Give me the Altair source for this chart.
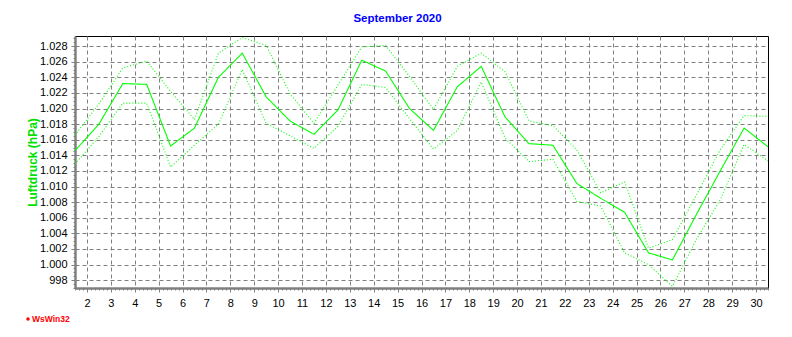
import altair as alt
import pandas as pd

# x positions: one value per day, plotted at mid-day
days = [1.5 + i for i in range(30)]
avg = [1014.6, 1018.0, 1023.2, 1023.1, 1015.2, 1017.5, 1024.0, 1027.1, 1021.5, 1018.4,
       1016.7, 1019.8, 1026.2, 1024.8, 1020.0, 1017.2, 1022.8, 1025.4, 1018.9, 1015.5,
       1015.3, 1010.4, 1008.5, 1006.7, 1001.5, 1000.6, 1006.4, 1012.0, 1017.5, 1015.1]
high = [1016.6, 1020.6, 1025.2, 1026.1, 1022.2, 1018.6, 1027.1, 1029.1, 1028.1, 1021.9,
        1018.1, 1023.0, 1027.9, 1028.1, 1024.1, 1019.9, 1025.4, 1027.1, 1024.7, 1018.4,
        1017.8, 1014.7, 1009.2, 1010.6, 1002.1, 1003.2, 1008.9, 1014.7, 1019.1, 1019.0]
low = [1012.9, 1016.4, 1020.7, 1020.7, 1012.5, 1015.3, 1018.0, 1025.0, 1018.1, 1016.5,
       1014.9, 1017.7, 1023.1, 1022.7, 1018.7, 1014.8, 1017.2, 1023.4, 1016.2, 1013.2,
       1013.5, 1008.1, 1007.5, 1001.5, 1000.0, 997.2, 1003.2, 1008.3, 1015.4, 1013.3]
series_names = ["Maximum", "Mittel", "Minimum"]

x_ticks = [round(1.5 + k / 6, 4) for k in range(175)]
y_ticks = [997 + 0.5 * k for k in range(65)]

rows = []
for name, vals in zip(series_names, [high, avg, low]):
    for d, v in zip(days, vals):
        rows.append({"tag": d, "serie": name, "wert": v})
df = pd.DataFrame(rows)

is_int_x = "abs(datum.value - round(datum.value)) < 0.01"
is_major_y = "datum.value % 2 == 0"

x_axis = alt.Axis(
    values=x_ticks,
    labelExpr=f"({is_int_x}) ? format(datum.value, 'd') : ''",
    labelOverlap=False, labelFlush=False,
    labelFont="Liberation Sans", labelFontSize=11, labelColor="black",
    labelPadding=5,
    tickSize={"condition": {"test": is_int_x, "value": 4}, "value": 2},
    tickColor="#808080",
    gridOpacity={"condition": {"test": is_int_x, "value": 1}, "value": 0},
    gridColor="#808080", gridDash=[4, 3], gridWidth=1,
    domainColor="#808080", domainWidth=2.5,
    title=None,
)
y_axis = alt.Axis(
    values=y_ticks,
    labelExpr=f"({is_major_y}) ? (datum.value >= 1000 ? format(datum.value / 1000, '.3f') : format(datum.value, 'd')) : ''",
    labelOverlap=False, labelFlush=False,
    labelFont="Liberation Sans", labelFontSize=11, labelColor="black",
    labelPadding=4,
    tickSize={"condition": {"test": is_major_y, "value": 4}, "value": 2},
    tickColor="#808080",
    gridOpacity={"condition": {"test": is_major_y, "value": 1}, "value": 0},
    gridColor="#808080", gridDash=[4, 3], gridWidth=1,
    domainColor="#808080", domainWidth=2.5,
    title="Luftdruck (hPa)",
    titleFont="Liberation Sans", titleFontSize=12, titleFontWeight="bold",
    titleColor="#00E000", titleAngle=270, titleX=-43, titleY=126,
    titleAlign="center", titleBaseline="middle",
)

lines = alt.Chart(df).mark_line(strokeWidth=1.1).encode(
    x=alt.X("tag:Q", scale=alt.Scale(domain=[1.5, 30.5], nice=False, zero=False), axis=x_axis),
    y=alt.Y("wert:Q", scale=alt.Scale(domain=[997, 1029.3], nice=False, zero=False), axis=y_axis),
    color=alt.Color("serie:N", scale=alt.Scale(domain=series_names, range=["#00FF00"] * 3), legend=None),
    strokeDash=alt.StrokeDash("serie:N", scale=alt.Scale(domain=series_names,
                              range=[[1, 2], [1, 0], [1, 2]]), legend=None),
    detail="serie:N",
)

logo_df = pd.DataFrame({"t": ["WsWin32"]})
logo_text = alt.Chart(logo_df).mark_text(
    color="red", fontSize=8.5, fontWeight="bold", font="Liberation Sans",
    align="left", baseline="middle"
).encode(text="t:N", x=alt.value(-43), y=alt.value(283))
logo_dot = alt.Chart(logo_df).mark_point(
    color="red", filled=True, size=12, opacity=1
).encode(x=alt.value(-47), y=alt.value(283))

chart = alt.layer(lines, logo_text, logo_dot).properties(
    width=693, height=252,
    title=alt.TitleParams("September 2020", color="#0000FF", fontSize=11.5, fontWeight="bold",
                          font="Liberation Sans", anchor="middle", dx=-24, offset=8),
    autosize=alt.AutoSizeParams(type="none"),
    padding={"left": 67, "top": 28, "right": 16, "bottom": 41},
    background="white",
).configure_view(stroke="black", strokeWidth=1)

chart.save("out.html", embed_options={"renderer": "svg", "actions": False})
